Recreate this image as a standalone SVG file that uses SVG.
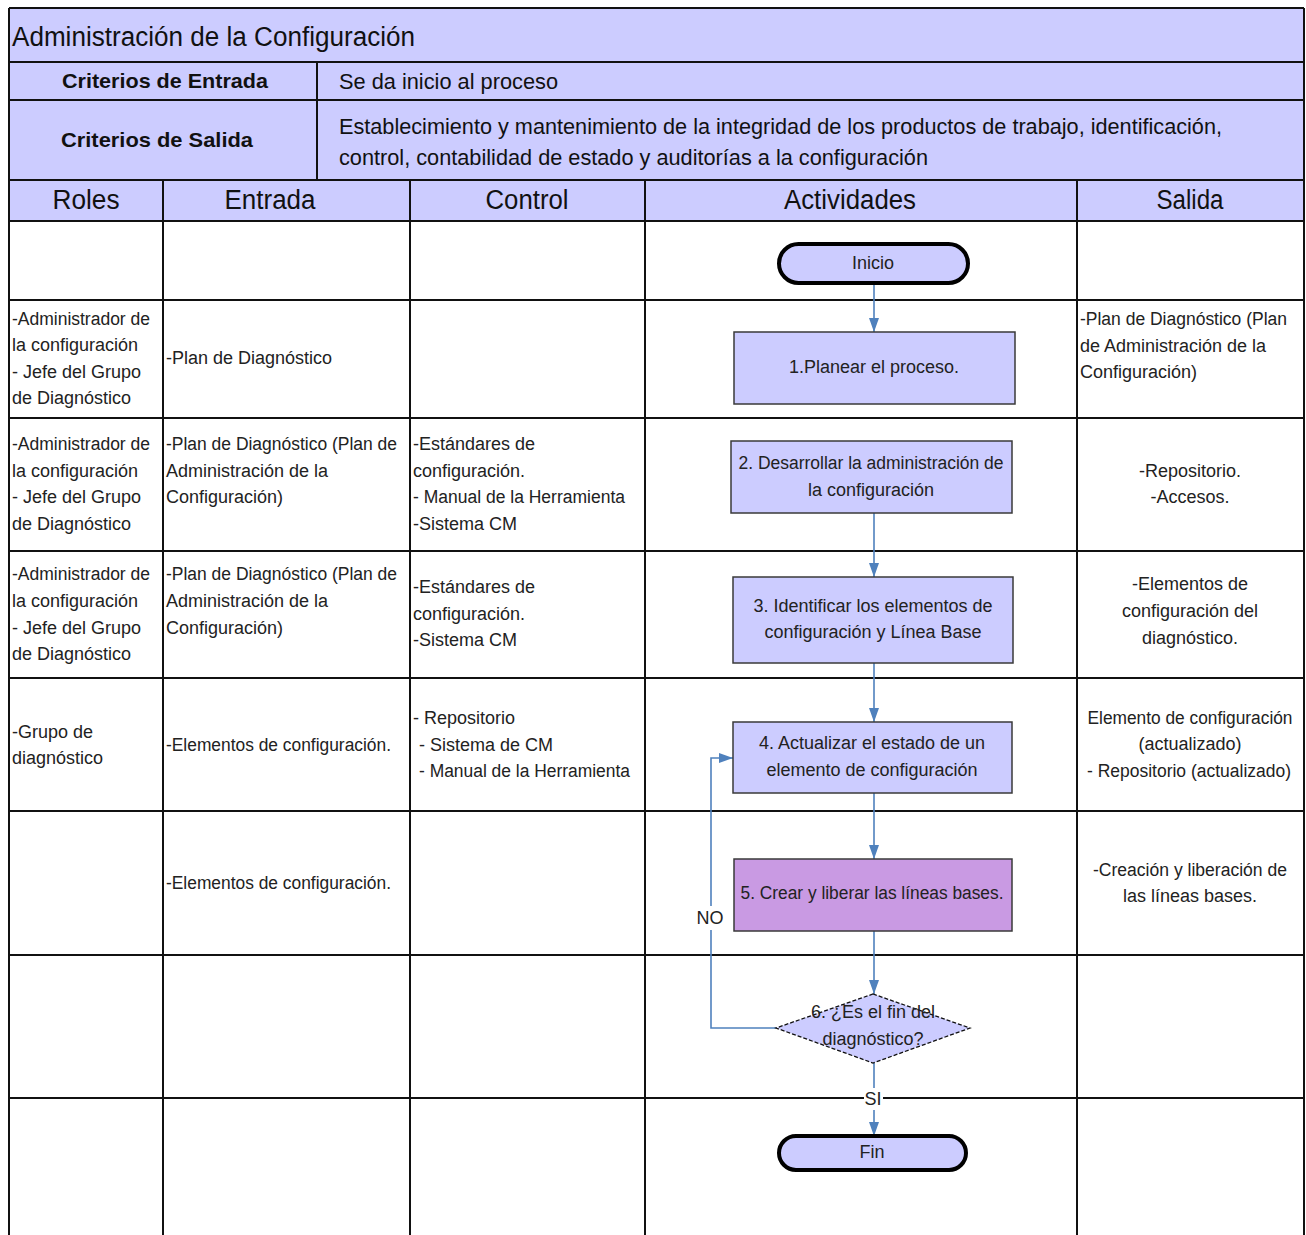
<svg xmlns="http://www.w3.org/2000/svg" width="1306" height="1235" viewBox="0 0 1306 1235">
<style>
.hdr{fill:#ccccff}
.grid{stroke:#111;stroke-width:2;fill:none}
.t{font-family:"Liberation Sans",Arial,sans-serif;font-size:18px;fill:#222}
.h{font-family:"Liberation Sans",Arial,sans-serif;font-size:27px;fill:#111}
.m{font-family:"Liberation Sans",Arial,sans-serif;font-size:22px;fill:#111}
.b{font-family:"Liberation Sans",Arial,sans-serif;font-size:21px;font-weight:bold;fill:#111}
.c{text-anchor:middle}
.box{fill:#ccccff;stroke:#3a3a3a;stroke-width:1.5}
.box5{fill:#c99ae3;stroke:#3a3a3a;stroke-width:1.5}
.term{fill:#ccccff;stroke:#000;stroke-width:4}
.dec{fill:#ccccff;stroke:#111;stroke-width:1.3;stroke-dasharray:4 2}
.conn{stroke:#4f81bd;stroke-width:1.6;fill:none;marker-end:url(#ah)}
</style>
<defs>
<marker id="ah" viewBox="0 0 14 10" refX="14" refY="5" markerWidth="14" markerHeight="10" markerUnits="userSpaceOnUse" orient="auto">
<path d="M0,0 L14,5 L0,10 z" fill="#4f81bd"/>
</marker>
</defs>
<rect x="0" y="0" width="1306" height="1235" fill="#fff"/>
<g id="table">
<rect class="hdr" x="9" y="8" width="1295" height="213"/>
<path class="grid" d="M9 8 H1304 M9 62 H1304 M9 100 H1304 M9 180 H1304 M9 221 H1304 M9 300 H1304 M9 418 H1304 M9 551 H1304 M9 678 H1304 M9 811 H1304 M9 955 H1304 M9 1098 H1304 M9 8 V1235 M1304 8 V1235 M317 62 V180 M163 180 V1235 M410 180 V1235 M645 180 V1235 M1077 180 V1235"/>
<text class="h" x="12" y="46" textLength="403" lengthAdjust="spacingAndGlyphs">Administración de la Configuración</text>
<text class="b c" x="165" y="88" textLength="206" lengthAdjust="spacingAndGlyphs">Criterios de Entrada</text>
<text class="m" x="339" y="89" textLength="219" lengthAdjust="spacingAndGlyphs">Se da inicio al proceso</text>
<text class="b c" x="157" y="147" textLength="192" lengthAdjust="spacingAndGlyphs">Criterios de Salida</text>
<text class="m" x="339" y="134" textLength="883" lengthAdjust="spacingAndGlyphs">Establecimiento y mantenimiento de la integridad de los productos de trabajo, identificación,</text>
<text class="m" x="339" y="165" textLength="589" lengthAdjust="spacingAndGlyphs">control, contabilidad de estado y auditorías a la configuración</text>
<text class="h c" x="86" y="209" textLength="67" lengthAdjust="spacingAndGlyphs">Roles</text>
<text class="h c" x="270" y="209" textLength="91" lengthAdjust="spacingAndGlyphs">Entrada</text>
<text class="h c" x="527" y="209" textLength="83" lengthAdjust="spacingAndGlyphs">Control</text>
<text class="h c" x="850" y="209" textLength="132" lengthAdjust="spacingAndGlyphs">Actividades</text>
<text class="h c" x="1190" y="209" textLength="67" lengthAdjust="spacingAndGlyphs">Salida</text>
</g>
<g id="cells">
<text class="t" x="12" y="325" textLength="138" lengthAdjust="spacingAndGlyphs">-Administrador de</text>
<text class="t" x="12" y="351">la configuración</text>
<text class="t" x="12" y="378">- Jefe del Grupo</text>
<text class="t" x="12" y="404">de Diagnóstico</text>
<text class="t" x="166" y="364">-Plan de Diagnóstico</text>
<text class="t" x="1080" y="325" textLength="207" lengthAdjust="spacingAndGlyphs">-Plan de Diagnóstico (Plan</text>
<text class="t" x="1080" y="352">de Administración de la</text>
<text class="t" x="1080" y="378">Configuración)</text>

<text class="t" x="12" y="450" textLength="138" lengthAdjust="spacingAndGlyphs">-Administrador de</text>
<text class="t" x="12" y="477">la configuración</text>
<text class="t" x="12" y="503">- Jefe del Grupo</text>
<text class="t" x="12" y="530">de Diagnóstico</text>
<text class="t" x="166" y="450" textLength="231" lengthAdjust="spacingAndGlyphs">-Plan de Diagnóstico (Plan de</text>
<text class="t" x="166" y="477">Administración de la</text>
<text class="t" x="166" y="503">Configuración)</text>
<text class="t" x="413" y="450">-Estándares de</text>
<text class="t" x="413" y="477">configuración.</text>
<text class="t" x="413" y="503" textLength="212" lengthAdjust="spacingAndGlyphs">- Manual de la Herramienta</text>
<text class="t" x="413" y="530">-Sistema CM</text>
<text class="t c" x="1190" y="477">-Repositorio.</text>
<text class="t c" x="1190" y="503">-Accesos.</text>

<text class="t" x="12" y="580" textLength="138" lengthAdjust="spacingAndGlyphs">-Administrador de</text>
<text class="t" x="12" y="607">la configuración</text>
<text class="t" x="12" y="634">- Jefe del Grupo</text>
<text class="t" x="12" y="660">de Diagnóstico</text>
<text class="t" x="166" y="580" textLength="231" lengthAdjust="spacingAndGlyphs">-Plan de Diagnóstico (Plan de</text>
<text class="t" x="166" y="607">Administración de la</text>
<text class="t" x="166" y="634">Configuración)</text>
<text class="t" x="413" y="593">-Estándares de</text>
<text class="t" x="413" y="620">configuración.</text>
<text class="t" x="413" y="646">-Sistema CM</text>
<text class="t c" x="1190" y="590">-Elementos de</text>
<text class="t c" x="1190" y="617">configuración del</text>
<text class="t c" x="1190" y="644">diagnóstico.</text>

<text class="t" x="12" y="738">-Grupo de</text>
<text class="t" x="12" y="764">diagnóstico</text>
<text class="t" x="166" y="751" textLength="225" lengthAdjust="spacingAndGlyphs">-Elementos de configuración.</text>
<text class="t" x="413" y="724">- Repositorio</text>
<text class="t" x="419" y="751">- Sistema de CM</text>
<text class="t" x="419" y="777" textLength="211" lengthAdjust="spacingAndGlyphs">- Manual de la Herramienta</text>
<text class="t c" x="1190" y="724" textLength="205" lengthAdjust="spacingAndGlyphs">Elemento de configuración</text>
<text class="t c" x="1190" y="750">(actualizado)</text>
<text class="t c" x="1189" y="777" textLength="204" lengthAdjust="spacingAndGlyphs">- Repositorio (actualizado)</text>

<text class="t" x="166" y="889" textLength="225" lengthAdjust="spacingAndGlyphs">-Elementos de configuración.</text>
<text class="t c" x="1190" y="876" textLength="194" lengthAdjust="spacingAndGlyphs">-Creación y liberación de</text>
<text class="t c" x="1190" y="902">las líneas bases.</text>
</g>
<g id="connectors">
<path class="conn" d="M874 283 V332"/>
<path class="conn" d="M874 513 V577"/>
<path class="conn" d="M874 663 V722"/>
<path class="conn" d="M874 793 V859"/>
<path class="conn" d="M874 931 V994"/>
<path class="conn" d="M874 1063 V1136"/>
<path class="conn" d="M776 1028 H711 V758 H733"/>
<rect x="698" y="906" width="26" height="24" fill="#fff"/>
<text class="t c" x="710" y="924">NO</text>
<rect x="864" y="1088" width="19" height="22" fill="#fff"/>
<text class="t c" x="873" y="1105">SI</text>
</g>
<g id="inicio">
<rect class="term" x="779" y="244" width="189" height="39" rx="19.5"/>
<text class="t c" x="873" y="269" style="font-size:18px">Inicio</text>
</g>
<g id="act1">
<rect class="box" x="734" y="332" width="281" height="72"/>
<text class="t c" x="874" y="373">1.Planear el proceso.</text>
</g>
<g id="act2">
<rect class="box" x="731" y="441" width="281" height="72"/>
<text class="t c" x="871" y="469" textLength="265" lengthAdjust="spacingAndGlyphs">2. Desarrollar la administración de</text>
<text class="t c" x="871" y="496">la configuración</text>
</g>
<g id="act3">
<rect class="box" x="733" y="577" width="280" height="86"/>
<text class="t c" x="873" y="612">3. Identificar los elementos de</text>
<text class="t c" x="873" y="638">configuración y Línea Base</text>
</g>
<g id="act4">
<rect class="box" x="733" y="722" width="279" height="71"/>
<text class="t c" x="872" y="749">4. Actualizar el estado de un</text>
<text class="t c" x="872" y="776">elemento de configuración</text>
</g>
<g id="act5">
<rect class="box5" x="734" y="859" width="278" height="72"/>
<text class="t c" x="872" y="899" textLength="263" lengthAdjust="spacingAndGlyphs">5. Crear y liberar las líneas bases.</text>
</g>
<g id="decision">
<polygon class="dec" points="873,994 970,1028 873,1063 776,1028"/>
<text class="t c" x="873" y="1018">6. ¿Es el fin del</text>
<text class="t c" x="873" y="1045">diagnóstico?</text>
</g>
<g id="fin">
<rect class="term" x="779" y="1136" width="187" height="34" rx="17"/>
<text class="t c" x="872" y="1158" style="font-size:18px">Fin</text>
</g>
</svg>
